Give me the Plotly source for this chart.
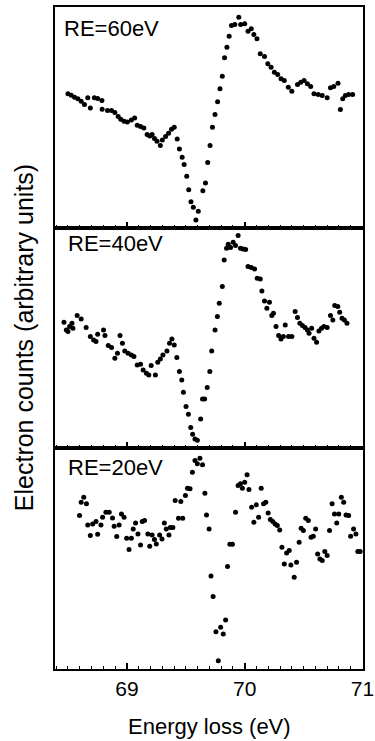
import plotly.graph_objects as go
from plotly.subplots import make_subplots

# ---------------- data ----------------
labels = ["RE=60eV", "RE=40eV", "RE=20eV"]

e60 = [68.500, 68.528, 68.556, 68.584, 68.612, 68.640, 68.668, 68.690, 68.724, 68.752,
       68.788, 68.790, 68.836, 68.870, 68.898, 68.926, 68.948, 68.976, 69.004, 69.038,
       69.066, 69.088, 69.116, 69.144, 69.172, 69.194, 69.214, 69.234, 69.256, 69.284,
       69.301, 69.329, 69.354, 69.379, 69.402, 69.427, 69.446, 69.469, 69.486, 69.508,
       69.525, 69.544, 69.564, 69.586, 69.606, 69.645, 69.667, 69.686, 69.706, 69.726,
       69.748, 69.770, 69.790, 69.810, 69.829, 69.849, 69.868, 69.888, 69.916, 69.950,
       69.966, 70.000, 70.028, 70.056, 70.078, 70.104, 70.132, 70.168, 70.196, 70.224,
       70.252, 70.280, 70.308, 70.336, 70.370, 70.400, 70.448, 70.476, 70.504, 70.532,
       70.560, 70.588, 70.624, 70.658, 70.700, 70.728, 70.756, 70.792, 70.812, 70.832,
       70.854, 70.882, 70.916]
c60 = [133.7, 132.3, 130.3, 128.7, 126.3, 123.0, 129.7, 119.7, 129.7, 129.0,
       127.0, 118.3, 117.0, 117.0, 115.0, 111.0, 108.3, 106.3, 105.7, 107.7,
       109.7, 102.3, 101.0, 99.7, 93.0, 91.7, 93.0, 89.0, 86.3, 82.0,
       87.7, 91.0, 94.3, 98.3, 100.3, 88.7, 78.7, 70.3, 63.0, 51.3,
       38.0, 26.0, 20.3, 7.7, 16.3, 37.0, 44.7, 65.0, 82.0, 100.3,
       113.0, 125.7, 138.7, 151.3, 169.7, 180.3, 191.3, 202.0, 203.0, 210.3,
       203.0, 203.7, 196.3, 198.7, 193.0, 188.7, 173.7, 171.0, 163.7, 160.3,
       155.3, 153.0, 148.7, 147.0, 140.3, 136.3, 143.0, 145.3, 147.0, 143.7,
       141.0, 133.7, 133.0, 132.0, 129.7, 139.7, 141.0, 144.3, 118.0, 128.7,
       132.0, 133.0, 133.0]

e40 = [68.466, 68.486, 68.500, 68.514, 68.534, 68.542, 68.578, 68.612, 68.654, 68.690,
       68.718, 68.738, 68.752, 68.802, 68.814, 68.842, 68.870, 68.898, 68.920, 68.942,
       68.962, 68.982, 69.010, 69.038, 69.060, 69.088, 69.116, 69.138, 69.166, 69.186,
       69.206, 69.242, 69.262, 69.284, 69.306, 69.340, 69.362, 69.382, 69.402, 69.424,
       69.446, 69.466, 69.480, 69.502, 69.522, 69.542, 69.558, 69.578, 69.598, 69.626,
       69.642, 69.660, 69.682, 69.704, 69.720, 69.748, 69.768, 69.784, 69.810, 69.826,
       69.846, 69.860, 69.880, 69.902, 69.922, 69.944, 69.964, 69.986, 70.008, 70.028,
       70.056, 70.084, 70.106, 70.132, 70.146, 70.168, 70.188, 70.210, 70.230, 70.244,
       70.266, 70.288, 70.308, 70.328, 70.344, 70.372, 70.400, 70.428, 70.448, 70.468,
       70.490, 70.512, 70.532, 70.546, 70.568, 70.588, 70.610, 70.630, 70.652, 70.672,
       70.700, 70.728, 70.748, 70.764, 70.790, 70.806, 70.826, 70.846, 70.868]
c40 = [126.0, 118.3, 116.7, 121.7, 125.0, 120.0, 132.7, 129.3, 120.7, 111.7,
       108.3, 106.7, 114.0, 118.3, 112.7, 102.7, 100.7, 90.0, 95.0, 112.7,
       105.0, 97.3, 95.0, 93.3, 91.7, 83.3, 84.0, 78.3, 75.0, 73.3,
       82.7, 73.3, 86.0, 89.3, 93.3, 97.3, 105.0, 109.3, 103.3, 90.7,
       76.7, 68.3, 56.0, 41.7, 34.0, 20.7, 14.0, 9.3, 8.0, 29.3,
       49.3, 49.3, 60.7, 76.7, 97.3, 118.3, 131.7, 145.0, 161.7, 188.3,
       200.0, 204.0, 200.7, 206.0, 202.7, 212.7, 200.0, 199.3, 198.7, 181.7,
       180.7, 179.3, 170.0, 169.3, 157.3, 147.3, 140.0, 146.0, 132.7, 135.0,
       121.7, 112.7, 109.3, 111.7, 123.3, 111.7, 111.7, 136.7, 130.7, 125.0,
       122.7, 120.7, 118.3, 115.0, 120.0, 110.0, 106.0, 117.3, 120.0, 121.7,
       120.7, 132.7, 128.3, 142.7, 141.7, 136.0, 130.0, 128.3, 125.0]

e20 = [68.598, 68.612, 68.634, 68.657, 68.668, 68.690, 68.710, 68.738, 68.752, 68.780,
       68.794, 68.822, 68.850, 68.878, 68.892, 68.914, 68.934, 68.954, 68.976, 68.998,
       69.018, 69.038, 69.054, 69.074, 69.094, 69.116, 69.130, 69.150, 69.178, 69.194,
       69.214, 69.234, 69.250, 69.278, 69.298, 69.318, 69.334, 69.357, 69.368, 69.390,
       69.410, 69.438, 69.458, 69.474, 69.497, 69.514, 69.536, 69.556, 69.578, 69.598,
       69.620, 69.642, 69.662, 69.676, 69.698, 69.714, 69.732, 69.756, 69.776, 69.796,
       69.818, 69.838, 69.854, 69.874, 69.896, 69.922, 69.944, 69.964, 69.980, 70.000,
       70.020, 70.036, 70.059, 70.078, 70.098, 70.118, 70.140, 70.160, 70.179, 70.199,
       70.218, 70.238, 70.258, 70.277, 70.297, 70.316, 70.336, 70.356, 70.378, 70.392,
       70.420, 70.440, 70.462, 70.479, 70.498, 70.518, 70.540, 70.563, 70.582, 70.602,
       70.619, 70.638, 70.658, 70.680, 70.700, 70.720, 70.742, 70.762, 70.781, 70.798,
       70.820, 70.840, 70.860, 70.882, 70.899, 70.924, 70.944, 70.960, 70.980]
c20 = [153.3, 166.7, 171.7, 165.0, 144.0, 133.3, 145.0, 147.3, 134.7, 144.0,
       151.7, 156.7, 156.7, 151.0, 142.7, 132.3, 144.0, 155.0, 151.7, 130.7,
       119.3, 130.7, 140.0, 146.0, 135.0, 124.0, 147.3, 148.3, 135.0, 122.7,
       134.0, 129.3, 125.0, 134.0, 130.0, 146.0, 140.0, 134.0, 141.3, 141.3,
       168.3, 150.7, 167.3, 150.7, 173.3, 180.7, 180.0, 196.7, 208.3, 205.0,
       210.7, 204.0, 175.7, 154.0, 140.0, 93.0, 72.5, 37.3, 8.3, 41.7,
       35.0, 49.0, 102.3, 124.7, 124.7, 156.7, 183.3, 185.0, 180.7, 186.7,
       194.0, 179.3, 161.7, 146.7, 164.0, 151.7, 180.7, 165.0, 166.7, 156.0,
       149.3, 147.3, 145.0, 143.3, 139.0, 121.7, 105.0, 116.0, 118.3, 104.0,
       91.7, 106.7, 126.7, 140.7, 138.3, 150.7, 148.3, 131.7, 132.7, 140.0,
       115.0, 110.0, 108.3, 117.3, 113.3, 138.3, 165.0, 155.0, 146.0, 155.0,
       171.7, 166.7, 154.0, 153.3, 132.7, 140.0, 135.0, 117.3, 117.3]

x_ticks = [69, 70, 71]
x_range = [68.39, 71.004]
y_range = [0, 220.5]

series = [(e60, c60), (e40, c40), (e20, c20)]

# ---------------- figure ----------------
FONT = "Arial, 'Liberation Sans', Helvetica, sans-serif"
fig = make_subplots(rows=3, cols=1, shared_xaxes=True, vertical_spacing=0)

for i, (xs, ys) in enumerate(series, start=1):
    fig.add_trace(go.Scatter(x=xs, y=ys, mode="markers",
                             marker=dict(color="black", size=5, line=dict(width=0)),
                             showlegend=False, hoverinfo="skip"), row=i, col=1)
    fig.update_xaxes(range=x_range, tickvals=x_ticks, ticks="inside", ticklen=6,
                     tickwidth=1.5, tickcolor="black",
                     minor=dict(dtick=0.1, ticks="inside", ticklen=3, tickwidth=1.2,
                                tickcolor="black", showgrid=False),
                     showline=True, linecolor="black", linewidth=2, mirror=True,
                     showgrid=False, zeroline=False, automargin=False,
                     ticklabeloverflow="allow",
                     showticklabels=(i == 3),
                     tickfont=dict(family=FONT, size=21, color="black"),
                     row=i, col=1)
    fig.update_yaxes(range=y_range, showticklabels=False, ticks="",
                     showline=True, linecolor="black", linewidth=2, mirror=True,
                     showgrid=False, zeroline=False, automargin=False, row=i, col=1)

label_pos = [(0.024, 0.968), (0.036, 0.6435), (0.036, 0.3044)]
annotations = []
for lab, (ax, ay) in zip(labels, label_pos):
    annotations.append(dict(text=lab, xref="paper", yref="paper", x=ax, y=ay,
                            xanchor="left", yanchor="middle", showarrow=False,
                            font=dict(family=FONT, size=22, color="black")))
annotations.append(dict(text="Energy loss (eV)", xref="paper", yref="paper",
                        x=0.5, y=-0.0876, xanchor="center", yanchor="middle",
                        showarrow=False, font=dict(family=FONT, size=22, color="black")))
annotations.append(dict(text="Electron counts (arbitrary units)", xref="paper", yref="paper",
                        x=-0.1, y=0.5, xanchor="center", yanchor="middle",
                        textangle=-90, showarrow=False,
                        font=dict(family=FONT, size=25, color="black")))

fig.update_layout(width=375, height=741, margin=dict(l=55, r=12, t=7, b=72),
                  paper_bgcolor="white", plot_bgcolor="white",
                  annotations=annotations)

fig.write_html("out.html", config={"displayModeBar": False})
